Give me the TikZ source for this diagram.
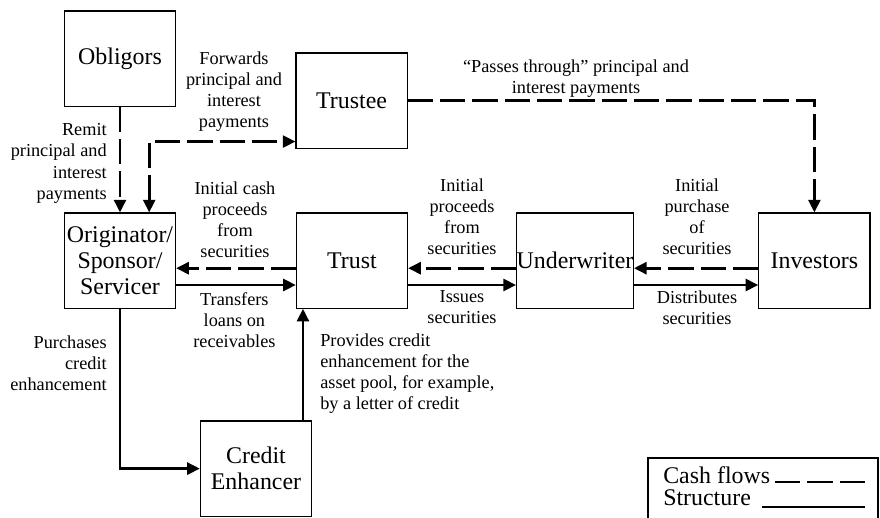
\documentclass[tikz,border=0pt]{standalone}
\usepackage{fontspec}
\setmainfont{Liberation Serif}
\usetikzlibrary{arrows.meta,calc}

\begin{document}
\begin{tikzpicture}[
		party/.style={draw, line width=0.8pt, minimum width=2.78cm, minimum height=2.38cm, inner sep=0pt, align=center, font=\fontsize{17}{18.5}\selectfont},
		lbl/.style={align=center, inner sep=0pt, font=\fontsize{13}{15}\selectfont},
		key/.style={anchor=west, inner sep=0pt, font=\fontsize{17}{16.4}\selectfont},
		cash/.style={line width=2pt, dash pattern=on 18pt off 5pt},
		struct/.style={line width=2pt},
		>={Triangle[length=9pt, width=8.5pt]}
	]
		\useasboundingbox (0.0, 0.0) rectangle (22.0, 12.925);

		\node[party] (obligors) at (3.0, 11.46) {Obligors};
		\node[party] (trustee) at (8.79, 10.41) {Trustee};
		\node[party] (orig) at (3.0, 6.41) {Originator/\\Sponsor/\\Servicer};
		\node[party] (trust) at (8.8, 6.41) {Trust};
		\node[party] (under) at (14.375, 6.41) {Underwriter};
		\node[party] (investors) at (20.36, 6.41) {Investors};
		\node[party] (enhancer) at (6.4, 1.21) {Credit\\Enhancer};

		\coordinate (tin) at ($(trustee.south west)+(0, 0.18)$);
		\coordinate (oin) at ($(orig.north)+(0.73, 0)$);
		\coordinate (cout) at ($(enhancer.north east)+(-0.23, 0)$);

		\draw[cash, ->] (obligors) -- (orig);
		\draw[cash, <->] (oin) |- (tin);
		\draw[cash, ->] (trustee.east) -| (investors.north);
		\draw[cash, ->] ([yshift=-0.19cm]trust.west) -- ([yshift=-0.19cm]orig.east);
		\draw[cash, ->] ([yshift=-0.19cm]under.west) -- ([yshift=-0.19cm]trust.east);
		\draw[cash, ->] ([yshift=-0.19cm]investors.west) -- ([yshift=-0.19cm]under.east);
		\draw[struct, ->] ([yshift=-0.61cm]orig.east) -- ([yshift=-0.61cm]trust.west);
		\draw[struct, ->] ([yshift=-0.61cm]trust.east) -- ([yshift=-0.61cm]under.west);
		\draw[struct, ->] ([yshift=-0.61cm]under.east) -- ([yshift=-0.61cm]investors.west);
		\draw[struct, ->] (orig.south) |- (enhancer.west);
		\draw[struct, ->] (cout) -- (cout |- trust.south);

		\node[lbl] (fwd) at (5.85, 10.64) {Forwards\\principal and\\interest\\payments};
		\node[lbl, anchor=east, align=right] (remit) at (2.675, 8.84) {Remit\\principal and\\interest\\payments};
		\node[lbl] (passes) at (14.4, 10.96) {``Passes through'' principal and\\interest payments};
		\node[lbl] (initcash) at (5.875, 7.44) {Initial cash\\proceeds\\from\\securities};
		\node[lbl] (transfers) at (5.86, 4.925) {Transfers\\loans on\\receivables};
		\node[lbl] (initproc) at (11.55, 7.51) {Initial\\proceeds\\from\\securities};
		\node[lbl] (issues) at (11.55, 5.24) {Issues\\securities};
		\node[lbl] (initpurch) at (17.425, 7.51) {Initial\\purchase\\of\\securities};
		\node[lbl] (distrib) at (17.425, 5.24) {Distributes\\securities};
		\node[lbl, anchor=east, align=right] (purch) at (2.675, 3.85) {Purchases\\credit\\enhancement};
		\node[lbl, anchor=west, align=left] (provides) at (8.0, 3.59) {Provides credit\\enhancement for the\\asset pool, for example,\\by a letter of credit};

		\draw[line width=0.8pt] (16.2, -0.3) rectangle (21.95, 1.475);
		\node[key] (cashkey) at (16.575, 1.05) {Cash flows};
		\node[key] (structkey) at (16.575, 0.475) {Structure};
		\draw[cash] (19.375, 0.875) -- (21.625, 0.875);
		\draw[struct] (19.05, 0.25) -- (21.625, 0.25);
\end{tikzpicture}
\end{document}
